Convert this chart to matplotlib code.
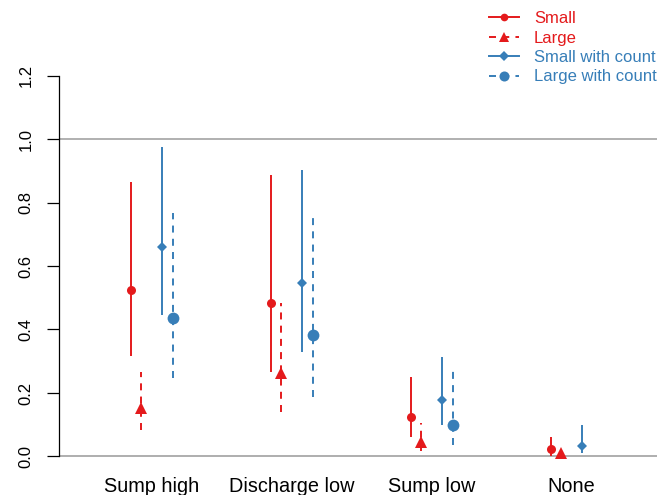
import numpy as np
import matplotlib
matplotlib.use("Agg")
import matplotlib.pyplot as plt
from matplotlib.lines import Line2D

plt.rcParams['font.family'] = ['Liberation Sans', 'DejaVu Sans']

categories = ["Sump high", "Discharge low", "Sump low", "None"]
series_names = ["Small", "Large", "Small with count", "Large with count"]

small_est = [0.524, 0.484, 0.125, 0.025]
small_lo = [0.317, 0.266, 0.062, 0.003]
small_hi = [0.865, 0.887, 0.249, 0.062]

large_est = [0.153, 0.263, 0.047, 0.010]
large_lo = [0.083, 0.141, 0.018, 0.002]
large_hi = [0.266, 0.484, 0.105, 0.015]

smallc_est = [0.660, 0.545, 0.178, 0.033]
smallc_lo = [0.446, 0.330, 0.099, 0.010]
smallc_hi = [0.975, 0.902, 0.312, 0.099]

largec_est = [0.436, 0.383, 0.099, np.nan]
largec_lo = [0.247, 0.188, 0.036, np.nan]
largec_hi = [0.767, 0.768, 0.278, np.nan]

yticks = [0.0, 0.2, 0.4, 0.6, 0.8, 1.0, 1.2]

RED = "#E41A1C"
BLUE = "#377EB8"

W, H = 657, 495
fig = plt.figure(figsize=(W / 100, H / 100), dpi=100)
left, right = 59 / W, 1.0
bottom, top = (H - 471.7) / H, (H - 60.3) / H
ax = fig.add_axes([left, bottom, right - left, top - bottom])

x = np.arange(1, len(categories) + 1)
dash = (0, (3.6, 3.2))
specs = [
    (small_est, small_lo, small_hi, -0.15, RED, '-', 'o', 6.5),
    (large_est, large_lo, large_hi, -0.075, RED, dash, '^', 8.5),
    (smallc_est, smallc_lo, smallc_hi, 0.075, BLUE, '-', 'D', 5.5),
    (largec_est, largec_lo, largec_hi, 0.15, BLUE, dash, 'o', 8.5),
]

ax.axhline(1.0, color="#aaaaaa", lw=1.3, zorder=1)
ax.axhline(0.0, color="#999999", lw=1.1, zorder=1)

handles = []
for (est, lo, hi, off, col, ls, mk, ms), name in zip(specs, series_names):
    xs = x + off
    for xi, l, h in zip(xs, lo, hi):
        if np.isnan(l):
            continue
        ax.plot([xi, xi], [l, h], color=col, lw=1.4, linestyle=ls,
                solid_capstyle='butt', dash_capstyle='butt', zorder=2)
    ax.plot(xs, est, linestyle='none', marker=mk, ms=ms, color=col,
            markeredgewidth=0, zorder=3)
    handles.append(Line2D([], [], color=col, lw=1.4, linestyle=ls, marker=mk,
                          ms=ms * 0.85, markeredgewidth=0))

ax.set_xlim(0.3379, 4.609)
ax.set_ylim(-0.048, 1.248)
ax.set_xticks(x)
ax.set_xticklabels(categories, fontsize=14.3)
ax.tick_params(axis='x', length=0, pad=4)
ax.set_yticks(yticks)
ax.set_yticklabels([f"{v:.1f}" for v in yticks], fontsize=12, rotation=90,
                   va='center')
ax.tick_params(axis='y', length=8.4, width=0.9, pad=10)
for s in ['top', 'right', 'bottom']:
    ax.spines[s].set_visible(False)
ax.spines['left'].set_bounds(0, 1.2)
ax.spines['left'].set_linewidth(0.9)

leg = fig.legend(handles, series_names, loc='upper left',
                 bbox_to_anchor=(489 / W, 1 - 11 / H), frameon=False,
                 fontsize=12, handlelength=1.8, handletextpad=0.9,
                 labelspacing=0.27, borderpad=0, borderaxespad=0)
for t, (_, _, _, _, col, _, _, _) in zip(leg.get_texts(), specs):
    t.set_color(col)

fig.savefig("out.png", dpi=100)
